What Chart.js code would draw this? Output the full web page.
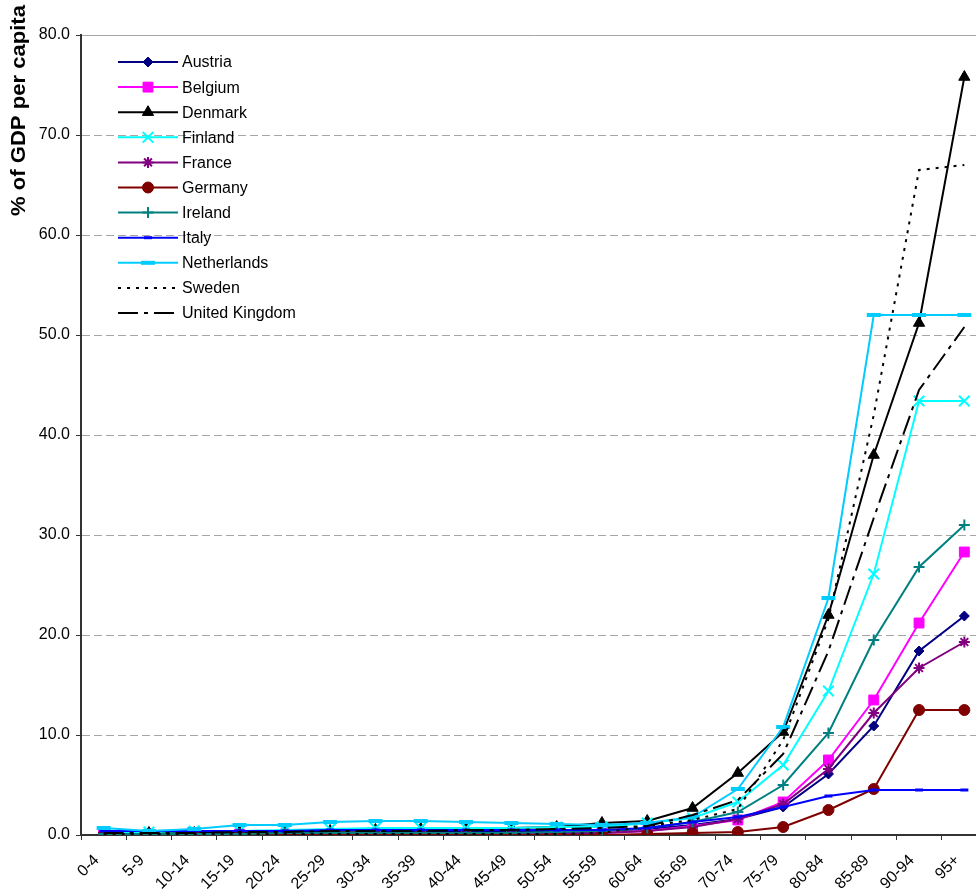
<!DOCTYPE html>
<html>
<head>
<meta charset="utf-8">
<title>Age profile of spending, % of GDP per capita</title>
<style>
  html, body { margin: 0; padding: 0; overflow: hidden; background: #ffffff; }
  #wrap { position: relative; width: 1000px; height: 889px; }
</style>
<script src="https://cdn.jsdelivr.net/npm/chart.js@4.4.1/dist/chart.umd.min.js"></script>
</head>
<body>
<div id="wrap"><canvas id="c" width="1000" height="889"></canvas></div>
<script>
// Age groups on the horizontal axis
const ageGroups = ['0-4', '5-9', '10-14', '15-19', '20-24', '25-29', '30-34', '35-39', '40-44', '45-49',
  '50-54', '55-59', '60-64', '65-69', '70-74', '75-79', '80-84', '85-89', '90-94', '95+'];

// Spending per head in each age group, as % of GDP per capita
const austria     = [0.2, 0.2, 0.2, 0.2, 0.2, 0.2, 0.3, 0.3, 0.3, 0.3, 0.3, 0.4, 0.6, 1.0, 1.6, 2.8, 6.1, 10.9, 18.4, 21.9];
const belgium     = [0.1, 0.1, 0.1, 0.1, 0.1, 0.1, 0.1, 0.1, 0.1, 0.1, 0.2, 0.2, 0.4, 0.9, 1.5, 3.3, 7.5, 13.5, 21.2, 28.3];
const denmark     = [0.2, 0.2, 0.2, 0.3, 0.4, 0.4, 0.5, 0.6, 0.6, 0.7, 0.8, 1.2, 1.4, 2.7, 6.2, 10.3, 22.0, 38.0, 51.2, 75.8];
const finland     = [0.3, 0.3, 0.4, 0.4, 0.5, 0.6, 0.7, 0.7, 0.7, 0.7, 0.8, 0.8, 1.2, 1.7, 3.3, 7.0, 14.4, 26.1, 43.4, 43.4];
const france      = [0.1, 0.1, 0.1, 0.1, 0.1, 0.1, 0.1, 0.1, 0.1, 0.1, 0.2, 0.2, 0.4, 0.8, 1.6, 3.1, 6.6, 12.2, 16.7, 19.3];
const germany     = [0.0, 0.0, 0.0, 0.0, 0.0, 0.0, 0.0, 0.0, 0.0, 0.0, 0.0, 0.0, 0.1, 0.2, 0.3, 0.8, 2.5, 4.6, 12.5, 12.5];
const ireland     = [0.1, 0.1, 0.1, 0.1, 0.2, 0.2, 0.2, 0.2, 0.2, 0.2, 0.3, 0.4, 0.7, 1.3, 2.3, 5.0, 10.2, 19.5, 26.8, 31.0];
const italy       = [0.4, 0.4, 0.4, 0.4, 0.4, 0.5, 0.5, 0.5, 0.5, 0.5, 0.5, 0.5, 0.7, 1.3, 1.8, 2.8, 3.9, 4.5, 4.5, 4.5];
const netherlands = [0.7, 0.4, 0.6, 1.0, 1.0, 1.3, 1.4, 1.4, 1.3, 1.2, 1.1, 1.0, 1.2, 1.8, 4.6, 10.8, 23.7, 52.0, 52.0, 52.0];
const sweden      = [0.1, 0.1, 0.1, 0.1, 0.1, 0.1, 0.1, 0.1, 0.1, 0.1, 0.1, 0.2, 0.9, 1.5, 2.6, 9.5, 21.6, 42.0, 66.5, 67.0];
const unitedKingdom = [0.2, 0.2, 0.2, 0.3, 0.3, 0.4, 0.4, 0.4, 0.5, 0.5, 0.6, 0.7, 0.9, 2.0, 3.5, 8.1, 18.4, 31.7, 44.5, 50.8];

// Vertical axis range and step
const yMin = 0;
const yMax = 80;
const yStep = 10;
const yTitle = '% of GDP per capita';

const FONT = "'Liberation Sans', Arial, Helvetica, sans-serif";

function series(label, data, color, style, radius, borderWidth, dash) {
  return {
    label: label,
    data: data,
    borderColor: color,
    backgroundColor: color,
    borderWidth: 2,
    borderDash: dash || [],
    pointStyle: style || 'circle',
    pointRadius: style ? radius : 0,
    pointHoverRadius: style ? radius : 0,
    pointBackgroundColor: color,
    pointBorderColor: color,
    pointBorderWidth: borderWidth,
    tension: 0,
    fill: false
  };
}

const datasets = [
  series('Austria', austria, '#000080', 'rectRot', 5, 1),
  series('Belgium', belgium, '#ff00ff', 'rect', 7, 1),
  series('Denmark', denmark, '#000000', 'triangle', 6.5, 1),
  series('Finland', finland, '#00ffff', 'crossRot', 7.5, 2),
  series('France', france, '#800080', 'star', 5.5, 2),
  series('Germany', germany, '#800000', 'circle', 5.5, 1),
  series('Ireland', ireland, '#008080', 'cross', 5.5, 2),
  series('Italy', italy, '#0000ff', 'line', 4, 3),
  series('Netherlands', netherlands, '#00ccff', 'line', 7, 4),
  series('Sweden', sweden, '#000000', null, 0, 0, [3, 6]),
  series('United Kingdom', unitedKingdom, '#000000', null, 0, 0, [20, 6, 4, 6])
];
// later series are painted over earlier ones
datasets.forEach((ds, i) => { ds.order = -i; });

// Legend drawn inside the plot, line sample with its marker in the middle
const insideLegend = {
  id: 'insideLegend',
  afterDraw(chart) {
    const ctx = chart.ctx;
    const x0 = 118, x1 = 178, textX = 182, y0 = 62, step = 25.1;
    chart.data.datasets.forEach((ds, i) => {
      const y = y0 + i * step;
      ctx.save();
      ctx.strokeStyle = ds.borderColor;
      ctx.lineWidth = ds.borderWidth;
      ctx.setLineDash(ds.borderDash || []);
      ctx.beginPath();
      ctx.moveTo(x0, y);
      ctx.lineTo(x1, y);
      ctx.stroke();
      ctx.setLineDash([]);
      if (ds.pointRadius > 0 && Chart.helpers && Chart.helpers.drawPoint) {
        ctx.fillStyle = ds.pointBackgroundColor;
        ctx.strokeStyle = ds.pointBorderColor;
        ctx.lineWidth = ds.pointBorderWidth;
        Chart.helpers.drawPoint(ctx, {
          pointStyle: ds.pointStyle,
          radius: ds.pointRadius,
          rotation: 0,
          borderWidth: ds.pointBorderWidth
        }, (x0 + x1) / 2, y);
      }
      ctx.fillStyle = '#000000';
      ctx.font = '16px ' + FONT;
      ctx.textAlign = 'left';
      ctx.textBaseline = 'middle';
      ctx.fillText(ds.label, textX, y + 1);
      ctx.restore();
    });
  }
};

// Bold axis title standing at the top of the value axis
const axisTitle = {
  id: 'axisTitle',
  afterDraw(chart) {
    const ctx = chart.ctx;
    const bottom = 216, top = 5;
    ctx.save();
    ctx.font = 'bold 20px ' + FONT;
    const w = ctx.measureText(yTitle).width;
    ctx.translate(25, bottom);
    ctx.rotate(-Math.PI / 2);
    ctx.scale((bottom - top) / w, 1);
    ctx.fillStyle = '#000000';
    ctx.textAlign = 'left';
    ctx.textBaseline = 'alphabetic';
    ctx.fillText(yTitle, 0, 0);
    ctx.restore();
  }
};

new Chart(document.getElementById('c'), {
  type: 'line',
  data: { labels: ageGroups, datasets: datasets },
  plugins: [insideLegend, axisTitle],
  options: {
    responsive: false,
    animation: false,
    devicePixelRatio: 1,
    layout: { padding: { left: 0, top: 35, right: 13, bottom: 0 } },
    plugins: {
      legend: { display: false },
      title: { display: false },
      tooltip: { enabled: false }
    },
    scales: {
      x: {
        type: 'category',
        offset: true,
        grid: {
          offset: true,
          drawOnChartArea: false,
          drawTicks: true,
          tickLength: 5,
          tickColor: '#333333',
          tickWidth: 1
        },
        border: { display: true, color: '#333333', width: 2 },
        ticks: {
          autoSkip: false,
          minRotation: 45,
          maxRotation: 45,
          padding: 11,
          labelOffset: -7,
          color: '#000000',
          font: { family: FONT, size: 16 }
        },
        afterFit(scale) { scale.height = 54; }
      },
      y: {
        min: yMin,
        max: yMax,
        grid: {
          color(ctx) {
            if (!ctx.tick) return '#a6a6a6';
            if (ctx.tick.value === yMin) return 'rgba(0,0,0,0)';
            return '#a6a6a6';
          },
          lineWidth: 1,
          drawTicks: true,
          tickLength: 5,
          tickColor: '#333333',
          tickWidth: 1
        },
        border: {
          display: true,
          color: '#333333',
          width: 2,
          dash(ctx) {
            if (!ctx.tick) return [];
            return ctx.tick.value === yMax ? [] : [8, 4];
          }
        },
        ticks: {
          stepSize: yStep,
          padding: 6,
          color: '#000000',
          font: { family: FONT, size: 16 },
          callback: (v) => Number(v).toFixed(1)
        },
        afterFit(scale) { scale.width = 81; }
      }
    }
  }
});
</script>
</body>
</html>
